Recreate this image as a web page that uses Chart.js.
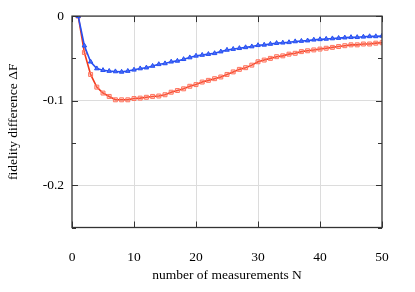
<!DOCTYPE html>
<html>
<head>
<meta charset="UTF-8">
<title>fidelity difference</title>
<script src="https://cdn.jsdelivr.net/npm/chart.js"></script>
<style>
  html, body { margin: 0; padding: 0; background: #fff; }
  #wrap { width: 415px; height: 292px; }
</style>
</head>
<body>
<div id="wrap"><canvas id="chart" width="415" height="292"></canvas></div>
<script>
// number of measurements N
const measurements = [
  1, 2, 3, 4, 5, 6, 7, 8, 9, 10,
  11, 12, 13, 14, 15, 16, 17, 18, 19, 20,
  21, 22, 23, 24, 25, 26, 27, 28, 29, 30,
  31, 32, 33, 34, 35, 36, 37, 38, 39, 40,
  41, 42, 43, 44, 45, 46, 47, 48, 49, 50
];
// blue curve (triangles)
const blueValues = [
  0, -0.035, -0.054, -0.062, -0.064, -0.065, -0.0655, -0.066, -0.065, -0.0635,
  -0.062, -0.061, -0.059, -0.057, -0.056, -0.054, -0.053, -0.051, -0.049, -0.047,
  -0.046, -0.045, -0.044, -0.042, -0.040, -0.039, -0.038, -0.037, -0.036, -0.0345,
  -0.034, -0.033, -0.032, -0.0315, -0.031, -0.030, -0.0295, -0.029, -0.028, -0.0275,
  -0.027, -0.0265, -0.026, -0.0255, -0.025, -0.025, -0.0245, -0.024, -0.024, -0.0235
];
// red curve (squares)
const redValues = [
  0, -0.043, -0.069, -0.084, -0.091, -0.095, -0.099, -0.099, -0.099, -0.0975,
  -0.097, -0.096, -0.095, -0.0945, -0.093, -0.090, -0.088, -0.086, -0.083, -0.081,
  -0.078, -0.076, -0.074, -0.072, -0.069, -0.066, -0.063, -0.061, -0.058, -0.054,
  -0.052, -0.050, -0.048, -0.047, -0.045, -0.044, -0.042, -0.041, -0.040, -0.039,
  -0.038, -0.037, -0.036, -0.035, -0.034, -0.034, -0.033, -0.033, -0.032, -0.0315
];
const xTicks = [0, 10, 20, 30, 40, 50];
const yTicks = [0, -0.05, -0.1, -0.15, -0.2, -0.25];

const FONT = "'Liberation Serif', 'DejaVu Serif', serif";

function isMajor(v) {
  return Math.abs(Math.round(v * 10) - v * 10) < 1e-6;
}

// inward tick marks on all four sides, like gnuplot
const innerTicks = {
  id: 'innerTicks',
  afterDraw(chart) {
    const ctx = chart.ctx;
    const a = chart.chartArea;
    const xs = chart.scales.x, ys = chart.scales.y;
    ctx.save();
    ctx.strokeStyle = '#333';
    ctx.lineWidth = 1;
    ctx.beginPath();
    xTicks.forEach(v => {
      const px = Math.round(xs.getPixelForValue(v)) + 0.5;
      ctx.moveTo(px, a.bottom); ctx.lineTo(px, a.bottom - 6);
      ctx.moveTo(px, a.top); ctx.lineTo(px, a.top + 6);
    });
    yTicks.forEach(v => {
      const py = Math.round(ys.getPixelForValue(v)) + 0.5;
      const len = isMajor(v) ? 6 : 4;
      ctx.moveTo(a.left, py); ctx.lineTo(a.left + len, py);
      ctx.moveTo(a.right, py); ctx.lineTo(a.right - len, py);
    });
    ctx.stroke();
    ctx.lineWidth = 1.3;
    ctx.strokeRect(a.left, a.top, a.right - a.left, a.bottom - a.top);
    ctx.restore();
  }
};

new Chart(document.getElementById('chart'), {
  type: 'line',
  data: {
    datasets: [
      {
        label: 'blue',
        data: measurements.map((n, i) => ({ x: n, y: blueValues[i] })),
        borderColor: '#2750f2',
        backgroundColor: '#2750f2',
        borderWidth: 1.6,
        pointStyle: 'triangle',
        pointRadius: 2.6,
        pointBorderWidth: 1,
        pointBackgroundColor: '#4a6cf5',
        pointBorderColor: '#2750f2',
        tension: 0
      },
      {
        label: 'red',
        data: measurements.map((n, i) => ({ x: n, y: redValues[i] })),
        borderColor: '#f23a1c',
        backgroundColor: '#f23a1c',
        borderWidth: 1.6,
        pointStyle: 'rect',
        pointRadius: 2.8,
        pointBorderWidth: 1,
        pointBackgroundColor: 'rgba(255,140,120,0.3)',
        pointBorderColor: '#ff7560',
        tension: 0
      }
    ]
  },
  options: {
    responsive: false,
    animation: false,
    layout: { padding: { top: 15, right: 33, left: 0, bottom: 0 } },
    plugins: { legend: { display: false }, tooltip: { enabled: false } },
    scales: {
      x: {
        type: 'linear',
        min: 0, max: 50,
        afterBuildTicks(s) { s.ticks = xTicks.map(v => ({ value: v })); },
        afterFit(s) { s.height = 64.5; },
        border: { display: false },
        grid: {
          drawTicks: false,
          color: c => (c.tick.value > 0 && c.tick.value < 50) ? '#dcdcdc' : 'rgba(0,0,0,0)'
        },
        ticks: { color: '#000', padding: 22, font: { family: FONT, size: 13.5 }, maxRotation: 0 },
        title: {
          display: true,
          text: 'number of measurements N',
          color: '#000',
          font: { family: FONT, size: 13.5 },
          padding: { top: 4, bottom: 8 }
        }
      },
      y: {
        type: 'linear',
        min: -0.25, max: 0,
        afterBuildTicks(s) { s.ticks = yTicks.map(v => ({ value: v })); },
        afterFit(s) { s.width = 72; },
        border: { display: false },
        grid: {
          drawTicks: false,
          color: c => (isMajor(c.tick.value) && c.tick.value < 0 && c.tick.value > -0.25) ? '#dcdcdc' : 'rgba(0,0,0,0)'
        },
        ticks: {
          color: '#000',
          padding: 8,
          font: { family: FONT, size: 13.5 },
          callback: v => {
            if (!isMajor(v) || v < -0.2) return '';
            return v === 0 ? '0' : v.toFixed(1);
          }
        },
        title: {
          display: true,
          text: 'fidelity difference ΔF',
          color: '#000',
          font: { family: FONT, size: 13.5 },
          padding: { top: 5, bottom: 4 }
        }
      }
    }
  },
  plugins: [innerTicks]
});
</script>
</body>
</html>
